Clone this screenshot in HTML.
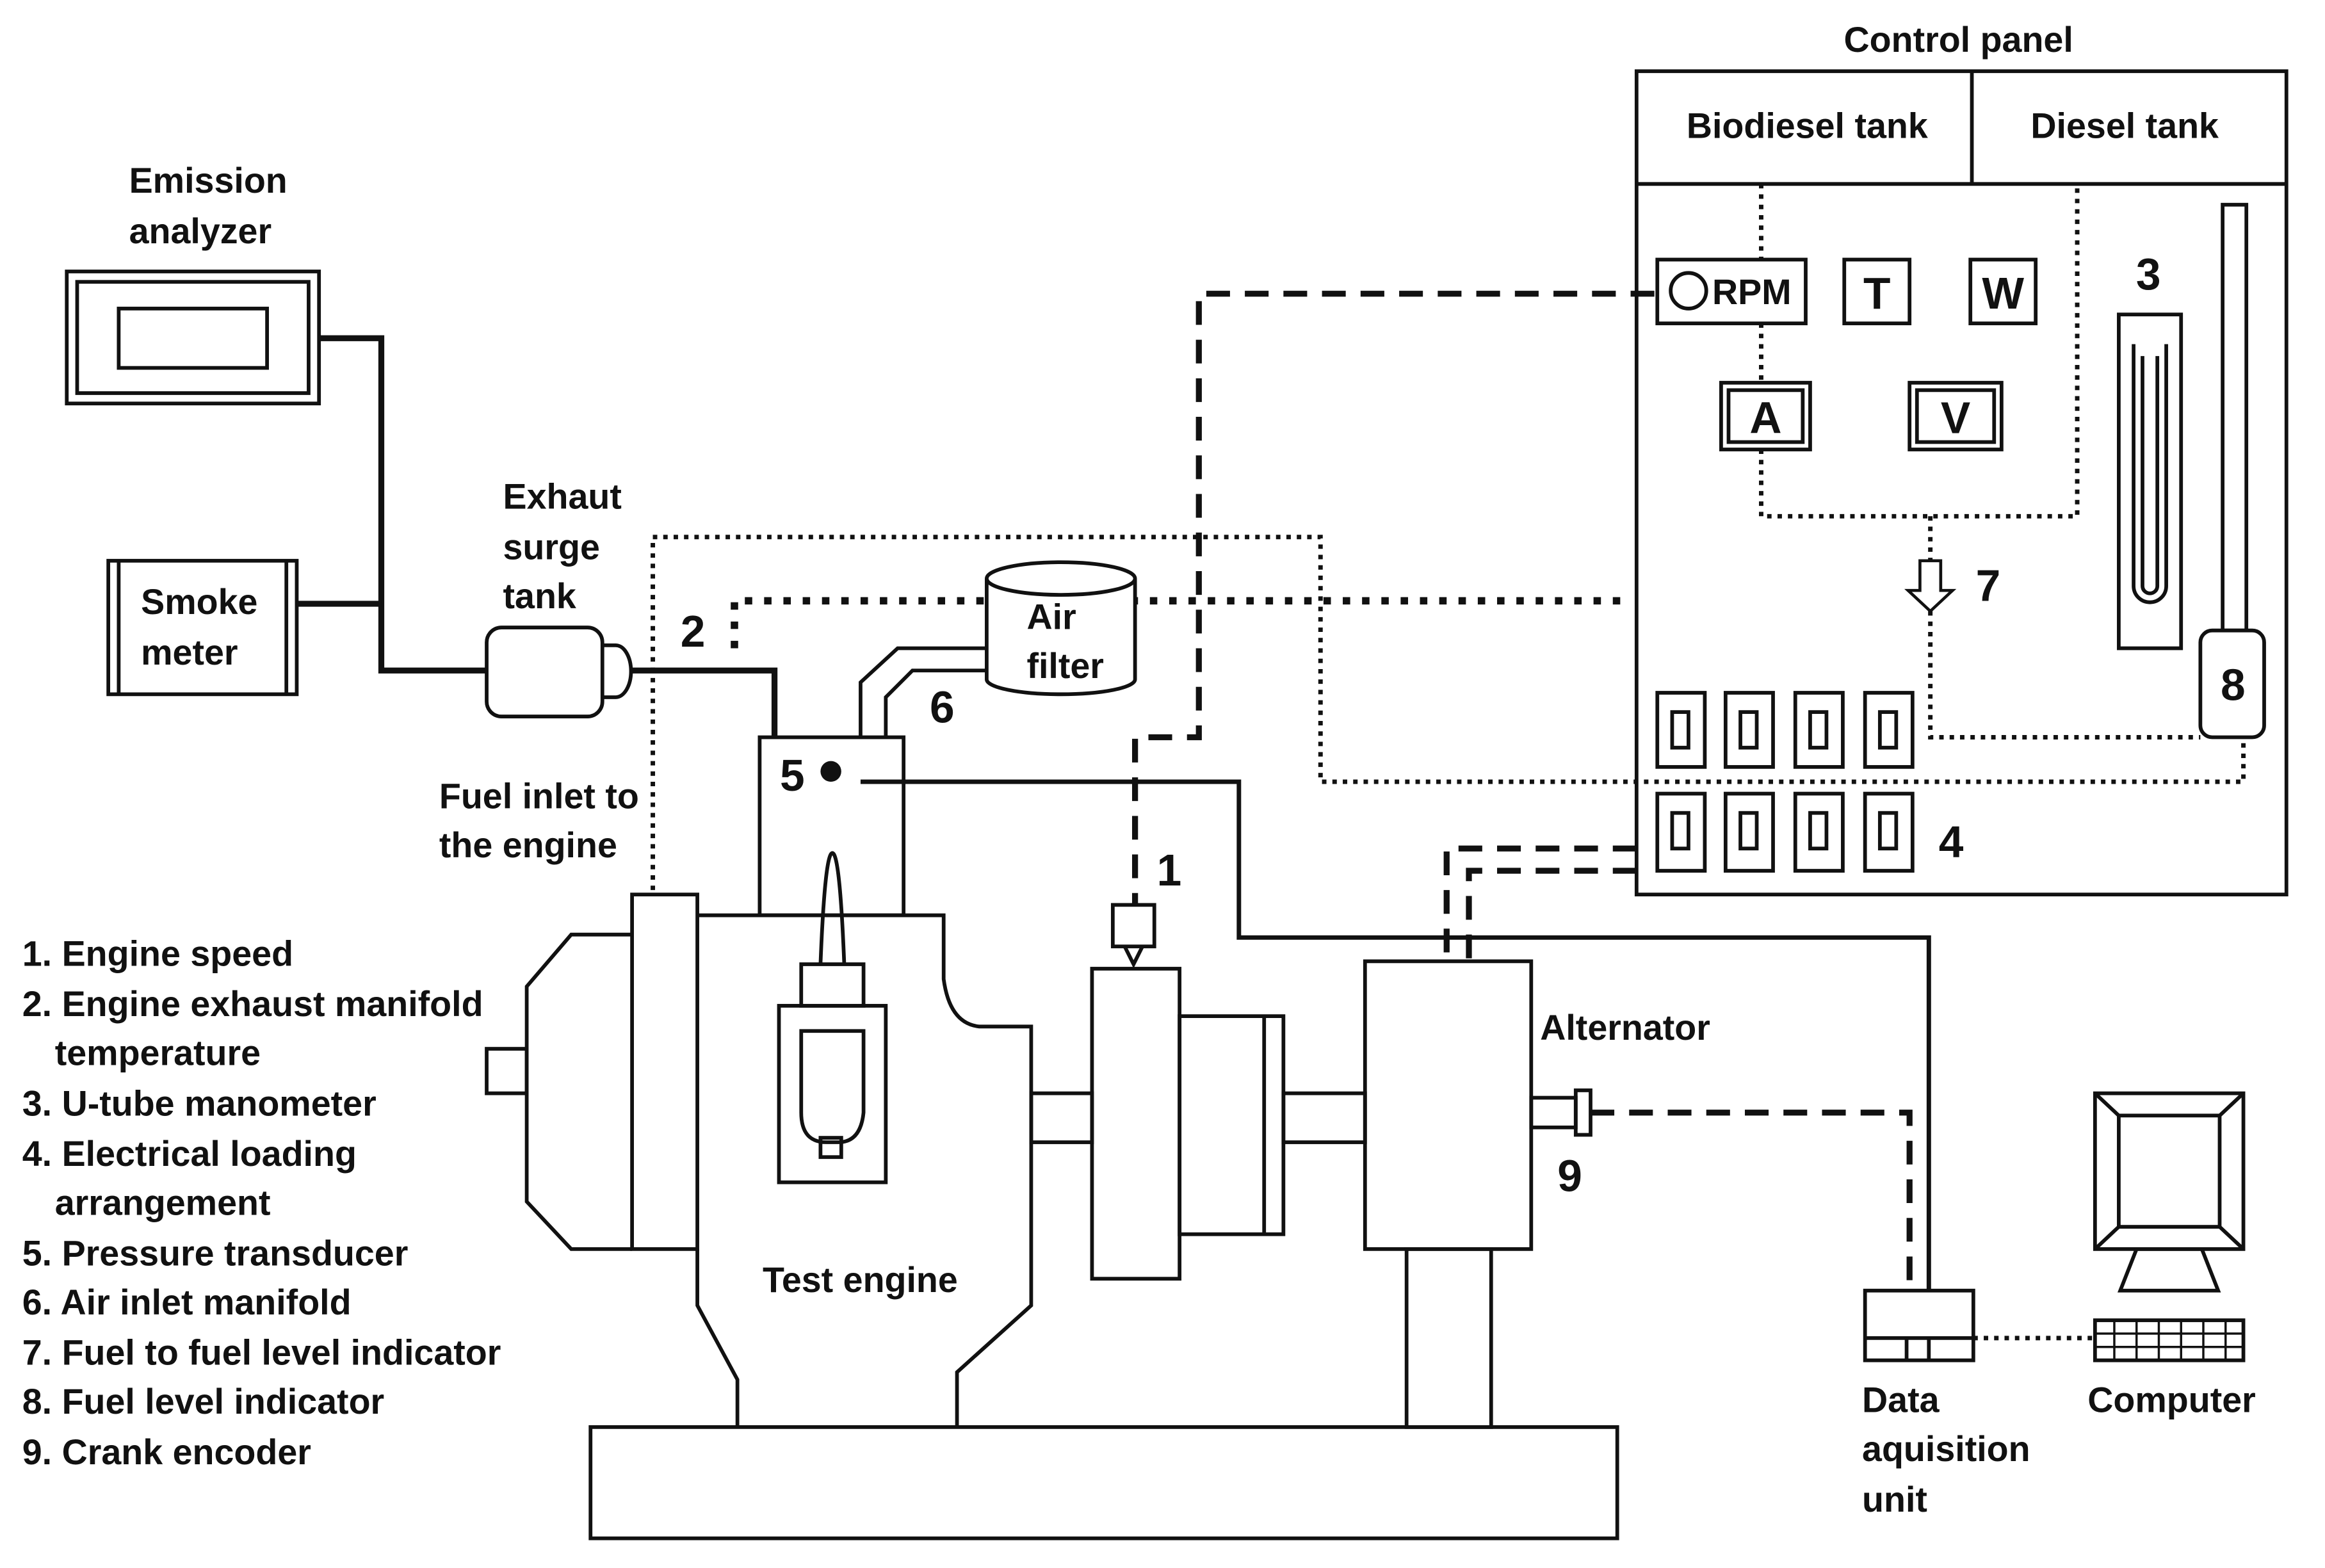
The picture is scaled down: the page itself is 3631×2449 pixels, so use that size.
<!DOCTYPE html>
<html><head><meta charset="utf-8"><style>
html,body{margin:0;padding:0;background:#fff}
svg{display:block}
text{font-family:"Liberation Sans",sans-serif;font-weight:bold;fill:#111;font-size:24px}
.n{font-size:30px}
</style></head><body>
<svg width="3631" height="2449" viewBox="0 0 1567 1057" preserveAspectRatio="none" xmlns="http://www.w3.org/2000/svg">
<g fill="none" stroke="#111" stroke-width="3" stroke-dasharray="3 4">
<path d="M1187 124 V175 M1187 218 V258"/>
<path d="M1187 303 V348 H1400 V124"/>
<path d="M1301 348 V378 M1301 412 V497 H1483"/>
<path d="M440 600 V362 H890 V527 H1512 V497"/>
<path d="M1330 902 H1412"/>
</g>
<g fill="none" stroke="#111" stroke-width="5" stroke-dasharray="5 8">
<path d="M1092 405 H495 V440"/>
</g>
<g fill="none" stroke="#111" stroke-width="2.5">
<rect x="1103" y="48" width="438" height="555"/>
<line x1="1103" y1="124" x2="1541" y2="124"/>
<line x1="1329" y1="48" x2="1329" y2="124"/>
<rect x="1117" y="175" width="100" height="43"/>
<circle cx="1138" cy="196" r="12"/>
<rect x="1243" y="175" width="44" height="43"/>
<rect x="1328" y="175" width="44" height="43"/>
<rect x="1160" y="258" width="60" height="45"/><rect x="1165" y="263" width="50" height="35"/>
<rect x="1287" y="258" width="62" height="45"/><rect x="1292" y="263" width="52" height="35"/>
<rect x="1428" y="212" width="42" height="225"/>
<path d="M1438 232 V395 A11 11 0 0 0 1460 395 V232"/>
<path d="M1444 240 V395 A5 5 0 0 0 1454 395 V240"/>
<rect x="1498" y="138" width="16" height="287"/>
<rect x="1483" y="425" width="43" height="72" rx="8" fill="#fff"/>
<g>
<rect x="1117" y="467" width="32" height="50"/><rect x="1127" y="480" width="11" height="24"/>
<rect x="1163" y="467" width="32" height="50"/><rect x="1173" y="480" width="11" height="24"/>
<rect x="1210" y="467" width="32" height="50"/><rect x="1220" y="480" width="11" height="24"/>
<rect x="1257" y="467" width="32" height="50"/><rect x="1267" y="480" width="11" height="24"/>
<rect x="1117" y="535" width="32" height="52"/><rect x="1127" y="548" width="11" height="24"/>
<rect x="1163" y="535" width="32" height="52"/><rect x="1173" y="548" width="11" height="24"/>
<rect x="1210" y="535" width="32" height="52"/><rect x="1220" y="548" width="11" height="24"/>
<rect x="1257" y="535" width="32" height="52"/><rect x="1267" y="548" width="11" height="24"/>
</g>
<path d="M1294 378 H1308 V398 H1316 L1301 412 L1286 398 H1294 Z" stroke-width="2" fill="#fff"/>
<rect x="45" y="183" width="170" height="89"/><rect x="52" y="190" width="156" height="75"/>
<rect x="80" y="208" width="100" height="40"/>
<rect x="73" y="378" width="127" height="90"/><line x1="80" y1="378" x2="80" y2="468"/><line x1="193" y1="378" x2="193" y2="468"/>
<path d="M215 228 H257 V452 H328" stroke-width="4"/>
<path d="M200 407 H257" stroke-width="4"/>
<rect x="328" y="423" width="78" height="60" rx="10"/>
<path d="M406 435 H415 A10 17 0 0 1 415 470 H406"/>
<path d="M425 452 H522 V497" stroke-width="4"/>
<path d="M580 527 H835 V632 H1300 V870" stroke-width="3"/>
<path d="M665 390 V458 A50 10 0 0 0 765 458 V390" fill="#fff"/>
<ellipse cx="715" cy="390" rx="50" ry="11" fill="#fff"/>
<path d="M580 497 V460 L605 437 H665"/>
<path d="M597 497 V470 L615 452 H665"/>
<rect x="512" y="497" width="97" height="120"/>
<rect x="426" y="603" width="44" height="239"/>
<path d="M426 630 H385 L355 665 V810 L385 842 H426"/>
<rect x="328" y="707" width="27" height="30"/>
<path d="M470 617 H636 V660 Q640 690 660 692 H695 V880 L645 925 V962"/>
<path d="M470 842 V880 L497 930 V962"/>
<rect x="525" y="678" width="72" height="119"/>
<path d="M540 695 H582 V750 Q580 770 565 770 H557 Q540 770 540 750 Z"/>
<rect x="553" y="767" width="14" height="13"/>
<rect x="540" y="650" width="42" height="28"/>
<path d="M553 650 Q556 575 561 575 Q566 575 569 650"/>
<rect x="736" y="653" width="59" height="209"/>
<rect x="750" y="610" width="28" height="28"/>
<path d="M758 638 L764 650 L770 638"/>
<rect x="695" y="737" width="41" height="33"/>
<rect x="795" y="685" width="70" height="147"/><line x1="852" y1="685" x2="852" y2="832"/>
<rect x="865" y="737" width="55" height="33"/>
<rect x="920" y="648" width="112" height="194"/>
<rect x="948" y="842" width="57" height="120"/>
<rect x="1032" y="740" width="30" height="20"/><rect x="1062" y="735" width="10" height="30"/>
<rect x="398" y="962" width="692" height="75"/>
<rect x="1257" y="870" width="73" height="47"/>
<line x1="1257" y1="902" x2="1330" y2="902"/><line x1="1285" y1="902" x2="1285" y2="917"/><line x1="1300" y1="902" x2="1300" y2="917"/>
<rect x="1412" y="737" width="100" height="105"/><rect x="1428" y="752" width="68" height="75"/>
<path d="M1412 737 L1428 752 M1512 737 L1496 752 M1412 842 L1428 827 M1512 842 L1496 827"/>
<path d="M1440 842 H1484 L1495 870 H1429 Z"/>
<rect x="1412" y="890" width="100" height="27"/>
<path d="M1412 899 H1512 M1412 908 H1512 M1425 890 V917 M1440 890 V917 M1455 890 V917 M1470 890 V917 M1485 890 V917 M1500 890 V917" stroke-width="1.5"/>
</g>
<circle cx="560" cy="520" r="7" fill="#111"/>
<g fill="none" stroke="#111" stroke-width="4" stroke-dasharray="16 10">
<path d="M1115 198 H808 V497 H765 V610"/>
<path d="M1103 572 H975 V648"/>
<path d="M1103 587 H990 V648"/>
<path d="M1072 750 H1287 V870"/>
</g>
<text x="1320" y="35" text-anchor="middle">Control panel</text>
<text x="1218" y="93" text-anchor="middle">Biodiesel tank</text>
<text x="1432" y="93" text-anchor="middle">Diesel tank</text>
<text x="1154" y="205" font-size="25">RPM</text>
<text x="1265" y="208" text-anchor="middle" class="n">T</text>
<text x="1350" y="208" text-anchor="middle" class="n">W</text>
<text x="1190" y="292" text-anchor="middle" class="n">A</text>
<text x="1318" y="292" text-anchor="middle" class="n">V</text>
<text x="1448" y="195" text-anchor="middle" class="n">3</text>
<text x="1340" y="405" text-anchor="middle" class="n">7</text>
<text x="1505" y="472" text-anchor="middle" class="n">8</text>
<text x="1315" y="578" text-anchor="middle" class="n">4</text>
<text x="87" y="130">Emission</text>
<text x="87" y="164">analyzer</text>
<text x="95" y="414">Smoke</text>
<text x="95" y="448">meter</text>
<text x="339" y="343">Exhaut</text>
<text x="339" y="377">surge</text>
<text x="339" y="410">tank</text>
<text x="467" y="436" text-anchor="middle" class="n">2</text>
<text x="692" y="424">Air</text>
<text x="692" y="457">filter</text>
<text x="635" y="487" text-anchor="middle" class="n">6</text>
<text x="534" y="533" text-anchor="middle" class="n">5</text>
<text x="296" y="545">Fuel inlet to</text>
<text x="296" y="578">the engine</text>
<text x="788" y="597" text-anchor="middle" class="n">1</text>
<text x="1038" y="701">Alternator</text>
<text x="1058" y="803" text-anchor="middle" class="n">9</text>
<text x="514" y="871">Test engine</text>
<text x="1255" y="952">Data</text>
<text x="1255" y="985">aquisition</text>
<text x="1255" y="1019">unit</text>
<text x="1407" y="952">Computer</text>
<text x="15" y="651">1. Engine speed</text>
<text x="15" y="685">2. Engine exhaust manifold</text>
<text x="37" y="718">temperature</text>
<text x="15" y="752">3. U-tube manometer</text>
<text x="15" y="786">4. Electrical loading</text>
<text x="37" y="819">arrangement</text>
<text x="15" y="853">5. Pressure transducer</text>
<text x="15" y="886">6. Air inlet manifold</text>
<text x="15" y="920">7. Fuel to fuel level indicator</text>
<text x="15" y="953">8. Fuel level indicator</text>
<text x="15" y="987">9. Crank encoder</text>
</svg>
</body></html>
